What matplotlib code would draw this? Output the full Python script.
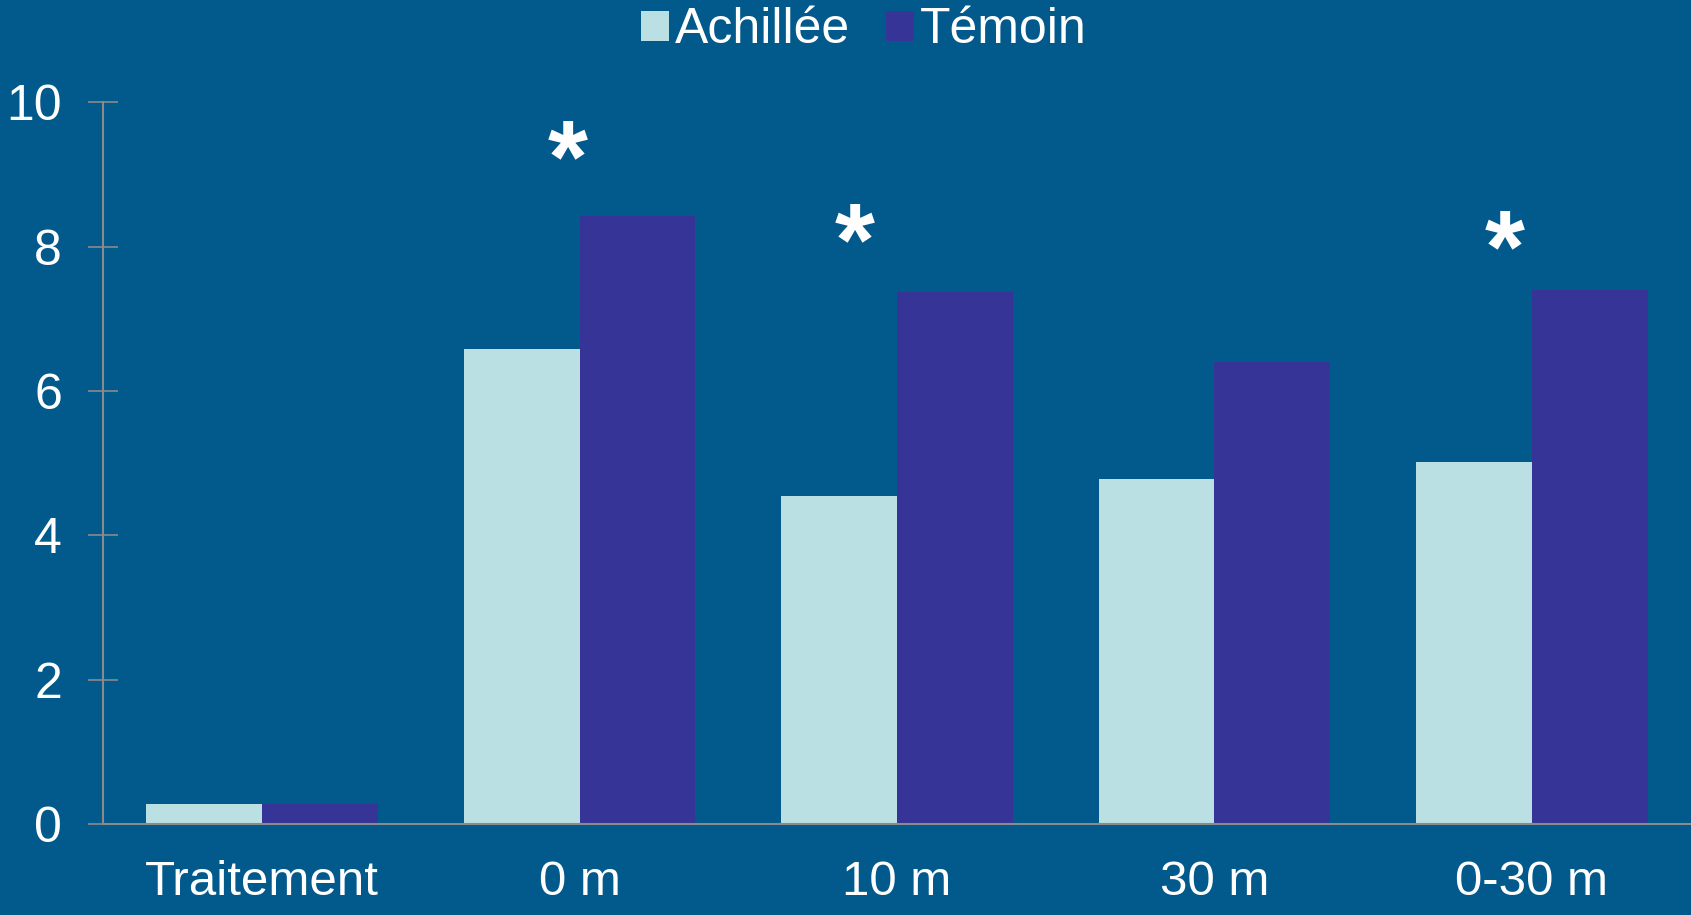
import numpy as np
import matplotlib
matplotlib.use('Agg')
import matplotlib.pyplot as plt

# Colours
BG = '#02598C'
LIGHT = '#BAE0E3'
DARK = '#373498'
AXIS = '#8A8A8A'

# Data
categories = ['Traitement', '0 m', '10 m', '30 m', '0-30 m']
achillee = [0.27, 6.59, 4.54, 4.78, 5.01]
temoin = [0.27, 8.42, 7.37, 6.40, 7.40]
series_names = ['Achillée', 'Témoin']
y_ticks = [0, 2, 4, 6, 8, 10]
# significance marks: (x, y) in data coordinates
star_x = [0.964, 1.868, 3.914]
star_y = [9.12, 7.97, 7.87]

plt.rcParams['font.family'] = ['Liberation Sans', 'DejaVu Sans']

fig = plt.figure(figsize=(16.91, 9.15), dpi=100, facecolor=BG)
ax = fig.add_axes([0.0612, 0.0995, 0.9385, 0.7885])
ax.set_facecolor(BG)

x = np.arange(len(categories))
w = 0.365
ax.bar(x - w / 2, achillee, width=w, color=LIGHT, label=series_names[0], zorder=2)
ax.bar(x + w / 2, temoin, width=w, color=DARK, label=series_names[1], zorder=2)

for sx, sy in zip(star_x, star_y):
    ax.text(sx, sy, '*', color='white', fontsize=74, fontweight='bold',
            ha='center', va='center')

ax.set_xlim(-0.5, 4.5)
ax.set_ylim(0, 10)
ax.set_yticks(y_ticks)
ax.set_yticklabels([str(t) for t in y_ticks])
ax.set_xticks(x)
ax.set_xticklabels(categories)

ax.tick_params(axis='y', direction='inout', length=21.6, width=1.2, color=AXIS,
               labelcolor='white', labelsize=36, pad=19)
ax.tick_params(axis='x', length=0, labelcolor='white', labelsize=35.5, pad=26)

for s in ['top', 'right']:
    ax.spines[s].set_visible(False)
for s in ['left', 'bottom']:
    ax.spines[s].set_color(AXIS)
    ax.spines[s].set_linewidth(1.5)
ax.spines['bottom'].set_zorder(3)

leg = fig.legend(loc='upper center', bbox_to_anchor=(0.511, 1.041), ncol=2,
                 frameon=False, fontsize=36, labelcolor='white',
                 handlelength=0.55, handleheight=0.55, handletextpad=0.13,
                 columnspacing=0.72)

fig.savefig('out.png', dpi=100, facecolor=BG)
